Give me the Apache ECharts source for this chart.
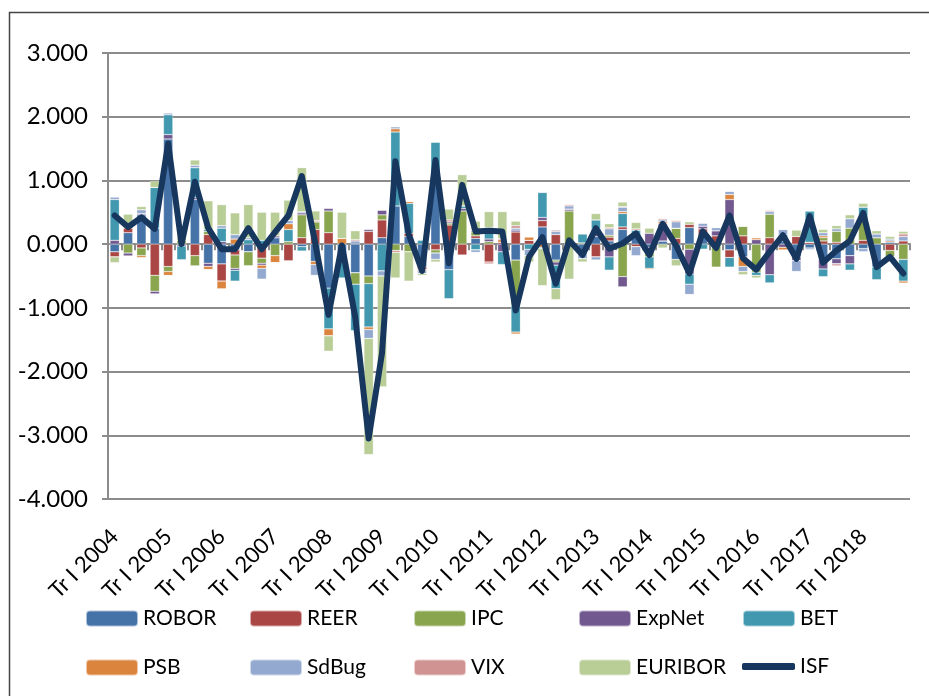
<!DOCTYPE html>
<html lang="ro">
<head>
	<meta charset="UTF-8">
	<title>ISF</title>
	<script src="https://cdn.jsdelivr.net/npm/echarts@6/dist/echarts.min.js"></script>
	<style>
		html,body{margin:0;padding:0;background:#fff;}
		.main{width:929px;height:696px;}
	</style>
</head>
<body>
	<div id="main" class="main"></div>
	<script type="text/javascript">
		// trimestre Tr I 2004 .. Tr IV 2018
		var years = [2004,2005,2006,2007,2008,2009,2010,2011,2012,2013,2014,2015,2016,2017,2018];
		var quarters = ['I','II','III','IV'];
		var categories = [];
		for (var y = 0; y < years.length; y++) {
			for (var q = 0; q < quarters.length; q++) {
				categories.push('Tr ' + quarters[q] + ' ' + years[y]);
			}
		}
		var yTicks = [-4, -3, -2, -1, 0, 1, 2, 3];

		var ROBOR = [-0.12,0.18,0.46,0.25,1.65,0,0.7,-0.3,-0.31,-0.09,
			-0.12,0,0.1,0,-0.04,-0.27,-0.69,-0.2,-0.45,-0.5,
			0.1,0.6,0.12,-0.36,1.1,-0.4,0,0.09,0,0,
			-0.25,0,0.27,-0.25,0,-0.1,0.12,0.05,0.23,0.12,
			-0.05,0.05,-0.24,0.26,0.12,0,-0.09,-0.2,0,0,
			0.05,-0.2,-0.06,-0.24,-0.23,-0.18,-0.07,-0.36,0.03,0];
		var REER = [-0.08,0.07,-0.06,-0.49,-0.35,0,-0.18,0.15,-0.27,-0.08,
			0,-0.22,0,-0.26,0.1,0.23,0.18,-0.03,0,0.2,
			0.28,0,0.05,-0.04,-0.09,0.3,-0.17,0.04,-0.28,0.03,
			0.19,0.06,0.1,0.15,0,0,-0.2,0.06,0.04,-0.04,
			-0.05,0,0.09,0.05,0.12,0.13,-0.12,0.13,0,0.1,
			0.05,0.12,0.03,0.05,0.03,0,0.06,0,-0.1,0.05];
		var IPC = [0,-0.14,-0.12,-0.25,-0.08,0.06,-0.16,0.05,0,-0.21,
			-0.22,-0.08,-0.18,0.04,0.36,0.12,0.34,0,-0.18,-0.12,
			0.08,-0.1,-0.12,0,-0.05,0.03,0.52,0.06,0.04,0,
			-0.71,0,0,-0.03,0.52,0.02,0,0.03,-0.51,0,
			-0.1,0,0.16,-0.08,0,-0.36,0,0.15,-0.44,0.37,
			0,0,0,0.05,0.17,0.25,0.3,0.1,-0.1,-0.24];
		var ExpNet = [0.06,-0.05,0.02,-0.04,0.07,-0.03,0.03,-0.05,0.04,-0.03,
			0,-0.03,0.03,0,0.03,0,0.04,0,0,0.03,
			0.07,0,0,0,0,0.02,0.04,0.02,0.04,-0.12,
			0.03,0,0.05,-0.05,0.03,0,0.12,-0.2,-0.16,0,
			0.17,0.27,0,-0.39,0.04,0.08,0.7,0,0.07,-0.48,
			-0.05,-0.06,0,-0.15,-0.08,-0.13,0,0,0,0];
		var BET = [0.64,0,0,0.64,0.31,-0.22,0.47,0.03,0.21,-0.17,
			0.07,0.06,0,0.19,-0.07,0,-0.64,-0.3,-0.73,-0.68,
			-0.42,1.16,0.47,0.06,0.5,-0.46,0.04,-0.09,0.15,-0.2,
			-0.42,-0.08,0.39,-0.37,0,0.14,0.14,-0.21,0.21,0.1,
			-0.18,0,0,-0.16,-0.08,0,-0.15,0,-0.05,-0.13,
			0.05,0,0.49,-0.12,0,-0.1,0.22,-0.2,-0.05,-0.34];
		var PSB = [0,0,-0.03,0,-0.06,0,0,-0.05,-0.12,0.08,
			0,-0.05,-0.11,0.09,0,-0.05,-0.11,0.09,0,-0.04,
			0,0.05,0.03,-0.02,0,0,0,0,0,0.04,
			-0.03,0.05,-0.05,0,0,0,0,0,0.03,0,
			-0.02,0.03,0,0,0,0,0.08,-0.15,0.03,0,
			-0.04,0,0,0.03,0,0,0,0,0.02,-0.03];
		var SdBug = [0.04,0,0.06,0,0.03,0,0.04,0,0.04,0.07,
			0.03,-0.17,0,0.05,0.02,-0.17,0,0,0.05,-0.14,
			-0.08,0.03,0,-0.04,-0.1,0,0,-0.04,0.03,0,
			0.03,-0.1,-0.02,0.05,0.05,-0.13,-0.05,0.1,0.07,-0.14,
			0,0.03,0.1,-0.16,0.05,0.05,0.05,-0.08,0,0.04,
			0.08,-0.17,-0.03,0.05,0.04,0.15,-0.05,0.06,0.03,0.07];
		var VIX = [0,0,0,0,0,0,0,0,0,0,
			0,0,0,0,0,0.02,0,0,0.02,0,
			0,-0.03,0,0,0,0.03,0,0,-0.03,0.02,
			0.04,0,0,0.02,0.02,0,0,0.02,0.01,0.02,
			0,0.02,0.02,0,0,0,0,0,0,0.02,
			0,0,0,0,-0.03,0,0,0,0,0.04];
		var EURIBOR = [-0.09,0.22,0.05,0.1,0,0.05,0.08,0.45,0.33,0.34,
			0.52,0.44,0.37,0.32,0.69,0.15,-0.24,0.41,0.14,-1.82,
			-1.74,-0.4,-0.46,-0.03,-0.04,0.17,0.49,0.15,0.25,0.42,
			0.07,-0.1,-0.58,-0.17,-0.55,-0.05,0.1,0.06,0.07,0.1,
			0.08,-0.06,-0.1,0.04,0,0,0,-0.05,-0.04,0,
			0,0.1,0,0.05,0.05,0.06,0.06,0.05,0.04,0.04];
		var ISF = [0.45,0.27,0.42,0.24,1.58,0.0,0.98,0.25,-0.08,-0.08,
			0.25,-0.08,0.19,0.45,1.07,0.02,-1.11,-0.02,-1.15,-3.05,
			-1.71,1.3,0.15,-0.42,1.32,-0.3,0.93,0.2,0.21,0.2,
			-1.04,-0.2,0.11,-0.62,0.06,-0.17,0.25,-0.07,0.01,0.17,
			-0.17,0.32,-0.02,-0.46,0.2,-0.06,0.45,-0.22,-0.4,-0.12,
			0.14,-0.23,0.44,-0.29,-0.1,0.05,0.49,-0.36,-0.2,-0.46];

		var barNames = ['ROBOR','REER','IPC','ExpNet','BET','PSB','SdBug','VIX','EURIBOR'];
		var barData = [ROBOR, REER, IPC, ExpNet, BET, PSB, SdBug, VIX, EURIBOR];
		var barColors = ['#4572A7','#AA4643','#89A54E','#71588F','#4198AF','#DB843D','#93A9CF','#D19392','#B9CD96'];
		var lineColor = '#17375E';
		var gridColor = '#8c8c8c';
		var font = 'Lato, "Liberation Sans", sans-serif';

		var series = [];
		for (var i = 0; i < barNames.length; i++) {
			series.push({
				name: barNames[i],
				type: 'bar',
				stack: 'total',
				barCategoryGap: '30%',
				itemStyle: {color: barColors[i], borderColor: 'rgba(255,255,255,0.55)', borderWidth: 0.5},
				data: barData[i]
			});
		}
		series.push({
			name: 'ISF',
			type: 'line',
			symbol: 'none',
			z: 5,
			lineStyle: {color: lineColor, width: 6, cap: 'round', join: 'round'},
			itemStyle: {color: lineColor},
			data: ISF
		});

		// legenda pe coloane (2 randuri)
		var legendCols = [['ROBOR','PSB'],['REER','SdBug'],['IPC','VIX'],['ExpNet','EURIBOR'],['BET']];
		var legendLeft = [80, 244, 408, 573, 737];
		var legends = [];
		for (var c = 0; c < legendCols.length; c++) {
			legends.push({
				data: legendCols[c],
				orient: 'vertical',
				left: legendLeft[c],
				top: 603,
				itemWidth: 52,
				itemHeight: 16,
				itemGap: 28,
				selectedMode: false,
				textStyle: {fontFamily: font, fontSize: 21, color: '#000'}
			});
		}
		// ISF: linie groasa in legenda
		legends.push({
			data: [{name: 'ISF', icon: 'roundRect'}],
			left: 737,
			top: 651,
			itemWidth: 53,
			itemHeight: 7,
			selectedMode: false,
			textStyle: {fontFamily: font, fontSize: 21, color: '#000'}
		});

		var myChart = echarts.init(document.getElementById('main'));
		var option = {
			animation: false,
			backgroundColor: '#fff',
			grid: {left: 108, right: 19, top: 53, bottom: 197},
			legend: legends,
			xAxis: [{
				type: 'category',
				data: categories,
				axisLine: {onZero: true, lineStyle: {color: gridColor, width: 2}},
				axisTick: {show: true, interval: 0, length: 6, lineStyle: {color: gridColor, width: 2}},
				axisLabel: {show: false}
			}, {
				type: 'category',
				data: categories,
				position: 'bottom',
				axisLine: {show: false, onZero: false},
				axisTick: {show: false},
				axisLabel: {
					interval: 3,
					rotate: 45,
					margin: 34,
					fontFamily: font,
					fontSize: 22,
					color: '#000'
				}
			}],
			yAxis: {
				type: 'value',
				min: yTicks[0],
				max: yTicks[yTicks.length - 1],
				interval: 1,
				axisLine: {show: true, lineStyle: {color: gridColor, width: 2}},
				axisTick: {show: true, length: 6, lineStyle: {color: gridColor, width: 2}},
				splitLine: {lineStyle: {color: gridColor, width: 2}},
				axisLabel: {
					margin: 20,
					fontFamily: font,
					fontSize: 24,
					color: '#000',
					formatter: function (v) { return v.toFixed(3); }
				}
			},
			graphic: [{
				type: 'polyline',
				shape: {points: [[9.5, 696], [9.5, 12.5], [929, 12.5]]},
				style: {stroke: '#444', lineWidth: 1.5, fill: null}
			}],
			series: series
		};
		myChart.setOption(option);
	</script>
</body>
</html>
